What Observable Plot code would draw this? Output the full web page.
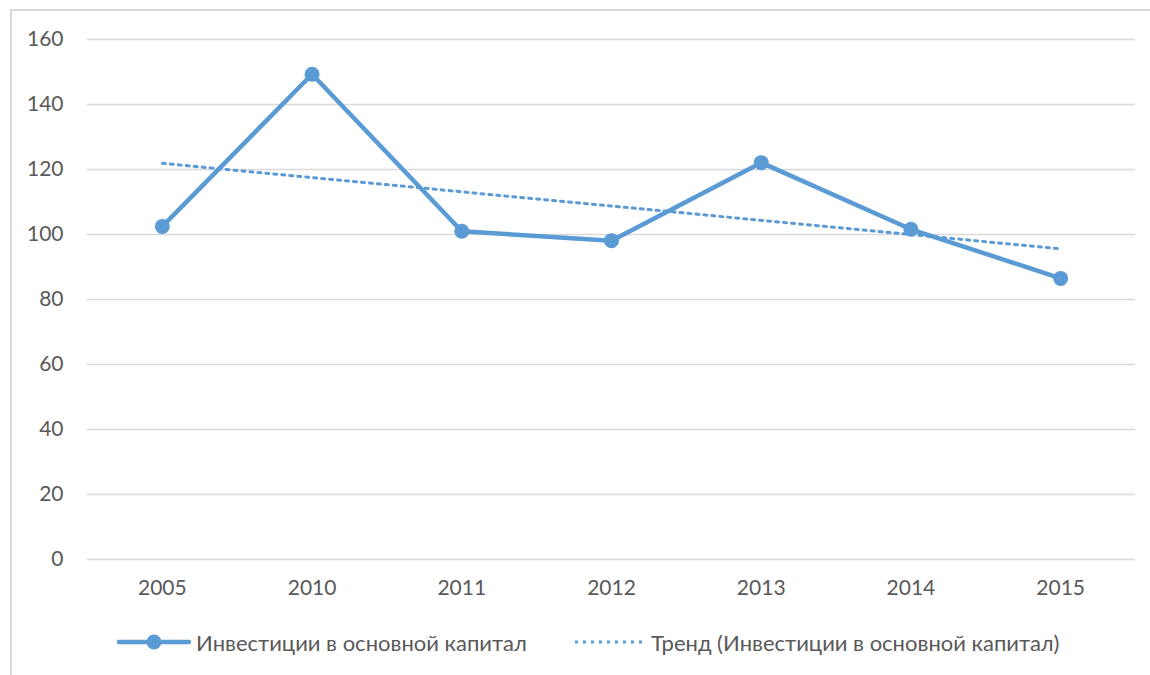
<!DOCTYPE html>
<html>
<head>
<meta charset="utf-8">
<script src="https://cdn.jsdelivr.net/npm/d3@7"></script>
<script src="https://cdn.jsdelivr.net/npm/@observablehq/plot@0.6"></script>
<style>
  html, body { margin: 0; padding: 0; background: #fff; width: 1150px; height: 675px; overflow: hidden; }
  #frame { position: absolute; left: 10px; top: 9px; width: 1200px; height: 720px; border-left: 2px solid #d9d9d9; border-top: 2px solid #d9d9d9; }
  #chart { position: absolute; left: 0; top: 0; }
  #legend { position: absolute; left: 0; top: 626px; width: 1150px; height: 32px; font-family: Lato, sans-serif; font-size: 22px; color: #595959; }
  .item { position: absolute; top: 0; height: 32px; display: flex; align-items: center; }
  .item svg { margin-right: 5px; }
</style>
</head>
<body>
<div id="frame"></div>
<div id="chart"></div>
<div id="legend"></div>
<script>
const years = ["2005", "2010", "2011", "2012", "2013", "2014", "2015"];
const investments = [102.5, 149.3, 101.0, 98.1, 122.1, 101.6, 86.5];
const trendYears = ["2005", "2015"];
const trendValues = [121.9, 95.6];
const yTicks = [0, 20, 40, 60, 80, 100, 120, 140, 160];
const seriesName = "Инвестиции в основной капитал";
const trendName = "Тренд (Инвестиции в основной капитал)";

const color = "#5b9bd5";
const data = years.map((y, i) => ({year: y, value: investments[i]}));
const trend = trendYears.map((y, i) => ({year: y, value: trendValues[i]}));

const chart = Plot.plot({
  width: 1150,
  height: 610,
  marginLeft: 87,
  marginRight: 15,
  marginTop: 39,
  marginBottom: 51,
  style: {fontFamily: "Lato, sans-serif", fontSize: "21px", color: "#595959", background: "transparent"},
  x: {type: "point", domain: years, padding: 0.5, round: false, label: null},
  y: {domain: [0, 160], ticks: yTicks, label: null},
  marks: [
    Plot.ruleY(yTicks, {stroke: "#d9d9d9", strokeWidth: 1.5, strokeOpacity: 1}),
    Plot.axisY({ticks: yTicks, tickSize: 0, tickPadding: 24, label: null, fill: "#595959"}),
    Plot.axisX({tickSize: 0, tickPadding: 21, label: null, fill: "#595959"}),
    Plot.line(data, {x: "year", y: "value", stroke: color, strokeWidth: 4.5, strokeLinejoin: "round"}),
    Plot.dot(data, {x: "year", y: "value", r: 7.5, fill: color, stroke: "none"}),
    Plot.line(trend, {x: "year", y: "value", stroke: color, strokeWidth: 3, strokeDasharray: "3 5"})
  ]
});
document.getElementById("chart").appendChild(chart);

const legend = document.getElementById("legend");
legend.innerHTML = `
  <div class="item" style="left:117px">
    <svg width="74" height="20"><line x1="2" y1="10" x2="72" y2="10" stroke="${color}" stroke-width="4.5" stroke-linecap="round"/><circle cx="37" cy="10" r="7.5" fill="${color}"/></svg>
    <span>${seriesName}</span>
  </div>
  <div class="item" style="left:574px">
    <svg width="72" height="20"><line x1="1" y1="10" x2="70" y2="10" stroke="${color}" stroke-width="3" stroke-dasharray="3 5"/></svg>
    <span>${trendName}</span>
  </div>`;
</script>
</body>
</html>
